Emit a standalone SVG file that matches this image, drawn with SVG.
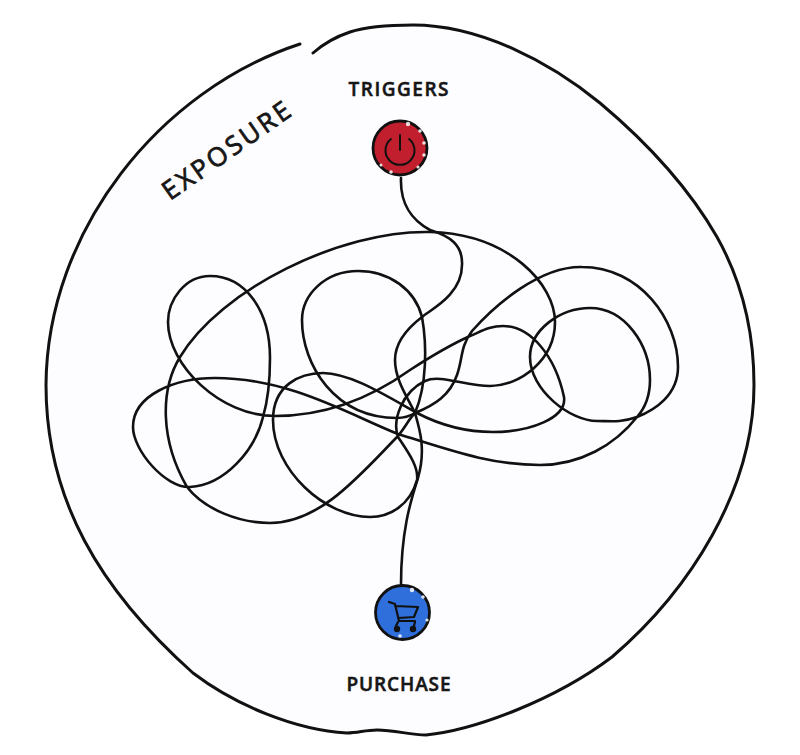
<svg xmlns="http://www.w3.org/2000/svg" width="800" height="755" viewBox="0 0 800 755">
<style>
.line{fill:none;stroke:#111;stroke-linecap:round;stroke-linejoin:round}
.lab{font-family:"Open Sans","Liberation Sans",sans-serif;fill:#161616;stroke:#161616;stroke-width:.5}
.spark{fill:#fff;opacity:.85}
</style>
<rect width="800" height="755" fill="#fff"/>
<g id="exposure">
<path fill="#fdfcfe" d="M300,44 C160,90 47,230 46,385 C46,500 100,590 193,673 C235,705 295,730 347,733 C358,733 365,730 377,730 C395,730 410,735 426,735 C475,730 555,700 612,657 C690,590 754,490 754,385 C754,325 740,278 717,237 C690,190 650,145 600,103 C550,62 480,25 413,25 C390,25 368,26 350,32 C335,37 322,45 313,53 Z"/>
<path class="line" stroke-width="3" d="M300,44 C160,90 47,230 46,385 C46,500 100,590 193,673 C235,705 295,730 347,733 C358,733 365,730 377,730 C395,730 410,735 426,735 C475,730 555,700 612,657 C690,590 754,490 754,385 C754,325 740,278 717,237 C690,190 650,145 600,103 C550,62 480,25 413,25 C390,25 368,26 350,32 C335,37 322,45 313,53"/>
<text class="lab" style="stroke-width:.8" transform="translate(170,201) rotate(-35)" font-size="26" textLength="150" lengthAdjust="spacing">EXPOSURE</text>
</g>
<g id="connectors">
<path class="line" stroke-width="2.600" d="M401,178 C400,205 412,220 430,230 C450,236 463,245 462,265 C462,295 430,310 422,317 C405,330 395,345 395,360 C395,380 408,398 415,413 C420,430 426,450 418,478 C411,500 401,530 401,585"/>
<path class="line" stroke-width="2.600" d="M415,413 C427,385 427,345 422,317 C415,290 390,271 358,271 C325,271 302,295 302,320 C302,365 335,418 397,418 C405,418 410,416 415,413"/>
<path class="line" stroke-width="2.600" d="M398,437 C392,420 402,392 425,381 C440,374 465,386 490,386 C520,386 555,360 555,322 C555,285 510,234 430,232 C340,230 220,290 180,357 C160,390 160,440 187,487 C205,510 240,523 270,523 C320,523 360,475 397,437 C405,428 408,420 415,413 C435,405 450,395 457,375 C463,358 460,347 472,331 C495,305 540,266 582,267 C640,267 678,320 678,367 C678,395 655,410 637,417 C620,423 610,421 597,421 C570,421 530,390 530,357 C530,330 560,308 590,308 C625,308 650,345 650,380 C650,395 645,408 637,417 C615,445 580,465 540,465 C490,465 450,450 398,434 C350,415 290,378 215,378 C175,378 133,395 133,427 C133,450 165,488 190,487 C225,485 255,450 263,417 C268,400 270,380 270,358 C270,310 245,276 210,276 C185,276 168,300 168,322 C168,365 220,416 275,416 C330,416 375,395 410,370 C430,357 450,345 470,336 C482,331 490,326 503,326 C530,326 555,355 564,397 C567,418 530,432 493,432 C465,432 440,425 417,413 C385,395 350,373 323,373 C300,373 273,385 273,420 C273,470 325,517 370,517 C390,517 410,505 417,480 C419,467 408,452 398,437"/>
</g>
<g id="triggers">
<circle cx="400" cy="148" r="27" fill="#c21f2e" stroke="#111" stroke-width="2.800"/>
<circle class="spark" cx="408" cy="124" r="2.200"/><circle class="spark" cx="420" cy="131" r="1.800"/><circle class="spark" cx="424" cy="143" r="1.800"/><circle class="spark" cx="424" cy="155" r="1.800"/><circle class="spark" cx="418" cy="167" r="1.600"/><circle class="spark" cx="391" cy="172" r="1.800"/><circle class="spark" cx="381" cy="165" r="1.500"/>
<path class="line" stroke-width="2" d="M391,139 A14.500,14.500 0 1 0 409,139 M400,135 V150"/>
<text class="lab" x="398.500" y="96" text-anchor="middle" font-size="19" font-weight="600" textLength="100" lengthAdjust="spacing">TRIGGERS</text>
</g>
<g id="purchase">
<circle cx="402.500" cy="612.500" r="27" fill="#2f6fdc" stroke="#111" stroke-width="2.800"/>
<circle class="spark" cx="412" cy="590" r="2.200"/><circle class="spark" cx="423" cy="597" r="1.800"/><circle class="spark" cx="427" cy="620" r="1.600"/><circle class="spark" cx="400" cy="636" r="1.800"/>
<path class="line" stroke-width="2.200" d="M389,602 L395,604 L399,621 H415 M395,606 L418,607 L414,617 L398,618 M398,622 L396,626 M415,622 L414,626"/>
<circle cx="397" cy="629" r="3.200" fill="#111"/><circle cx="413" cy="629" r="3.200" fill="#111"/>
<text class="lab" x="398.500" y="691" text-anchor="middle" font-size="19" font-weight="600" textLength="104" lengthAdjust="spacing">PURCHASE</text>
</g>
</svg>
